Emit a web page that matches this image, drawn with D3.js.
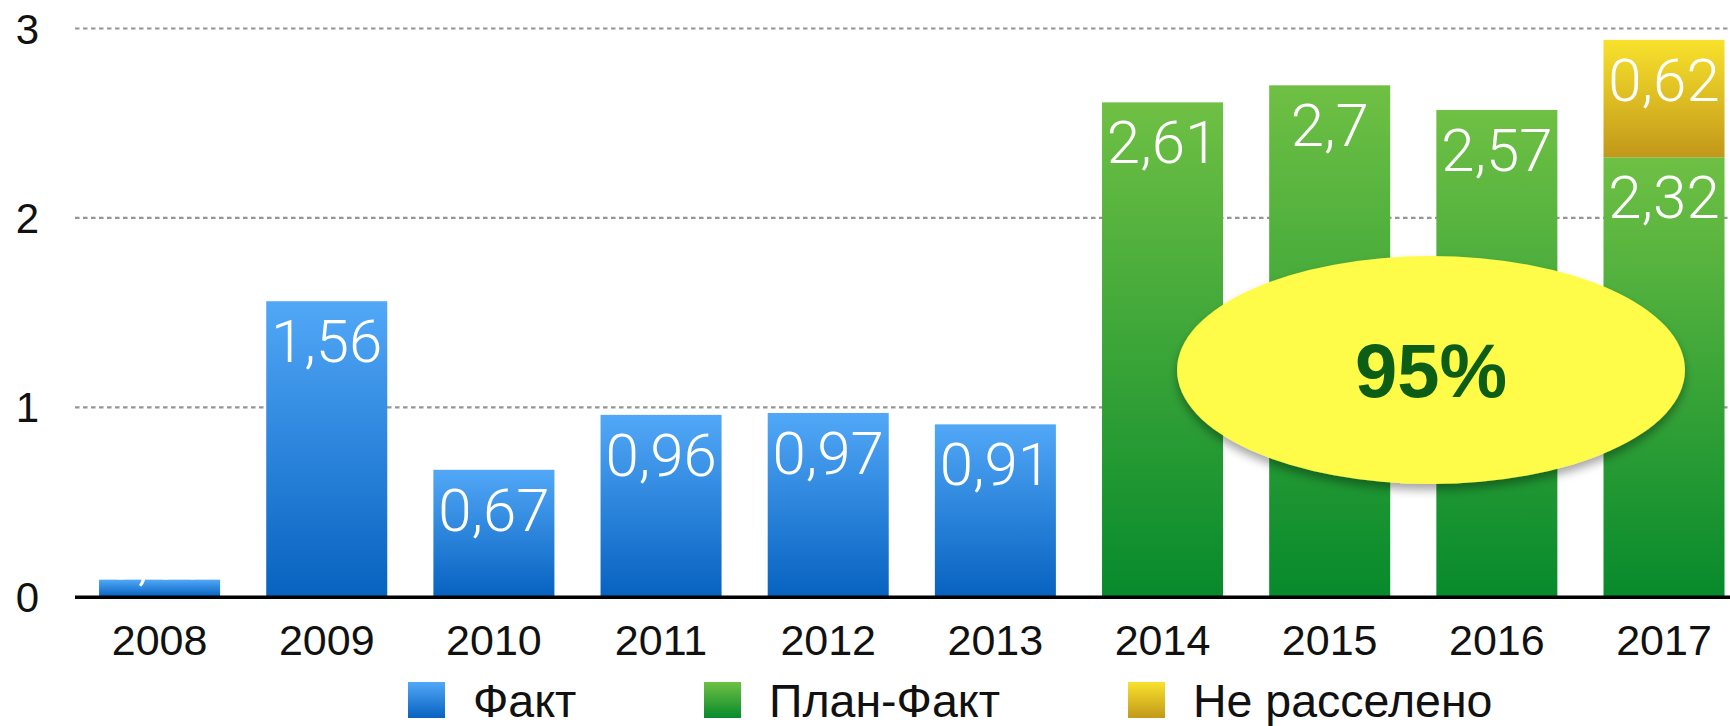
<!DOCTYPE html>
<html>
<head>
<meta charset="utf-8">
<script src="https://cdn.jsdelivr.net/npm/d3@7"></script>
<style>
  body { margin: 0; background: #fff; }
  svg { display: block; }
  text { font-family: "Helvetica Neue", "Liberation Sans", Arial, sans-serif; }
  .val { font-family: "Helvetica Neue", Roboto, sans-serif; font-weight: 300; }
</style>
</head>
<body>
<div id="chart"></div>
<script>
// data
const years = ["2008", "2009", "2010", "2011", "2012", "2013", "2014", "2015", "2016", "2017"];
const series = ["fact", "plan", "left"];
const seriesNames = ["Факт", "План-Факт", "Не расселено"];
const factValues = [0.09, 1.56, 0.67, 0.96, 0.97, 0.91, 0, 0, 0, 0];
const planValues = [0, 0, 0, 0, 0, 0, 2.61, 2.7, 2.57, 2.32];
const leftValues = [0, 0, 0, 0, 0, 0, 0, 0, 0, 0.62];
const yTicks = [0, 1, 2, 3];
const badgeText = "95%";

// colours (top, bottom of each gradient)
const gradColors = {
  fact: ["#52a8f7", "#0762c0"],
  plan: ["#6fc044", "#078a2c"],
  left: ["#f8e22c", "#c2981a"]
};

const width = 1730, height = 726;

const svg = d3.select("#chart").append("svg")
  .attr("width", width)
  .attr("height", height);

const defs = svg.append("defs");
series.forEach(function(s) {
  const g = defs.append("linearGradient")
    .attr("id", "grad-" + s)
    .attr("x1", 0).attr("y1", 0).attr("x2", 0).attr("y2", 1);
  g.append("stop").attr("offset", "0%").attr("stop-color", gradColors[s][0]);
  g.append("stop").attr("offset", "100%").attr("stop-color", gradColors[s][1]);
});

const shadow = defs.append("filter").attr("id", "shadow")
  .attr("x", "-20%").attr("y", "-20%").attr("width", "140%").attr("height", "150%");
shadow.append("feDropShadow")
  .attr("dx", 0).attr("dy", 6).attr("stdDeviation", 5)
  .attr("flood-color", "#000").attr("flood-opacity", 0.35);

// scales
const x = d3.scaleBand()
  .domain(years)
  .range([76, 1747.6])
  .paddingInner(0.276)
  .paddingOuter(0.138);

const y = d3.scaleLinear()
  .domain([0, 3])
  .range([596.7, 28.5]);

// grid lines
svg.append("g")
  .selectAll("line")
  .data(yTicks.filter(d => d > 0))
  .join("line")
  .attr("x1", 75).attr("x2", width)
  .attr("y1", d => y(d)).attr("y2", d => y(d))
  .attr("stroke", "#959595")
  .attr("stroke-width", 2.2)
  .attr("stroke-dasharray", "4.5,3.5");

// y labels
svg.append("g")
  .selectAll("text")
  .data(yTicks)
  .join("text")
  .attr("x", 39)
  .attr("y", d => y(d))
  .attr("dy", "0.36em")
  .attr("text-anchor", "end")
  .attr("font-size", 42)
  .attr("fill", "#111")
  .text(d => d);

// stack the three series
const rows = years.map((yr, i) => ({ year: yr, fact: factValues[i], plan: planValues[i], left: leftValues[i] }));
const stacked = d3.stack().keys(series)(rows);

const layers = svg.append("g").attr("class", "bars")
  .selectAll("g")
  .data(stacked)
  .join("g");

layers.selectAll("rect")
  .data(d => d.filter(p => p[1] - p[0] > 0).map(p => ({ key: d.key, p: p })))
  .join("rect")
  .attr("x", d => x(d.p.data.year))
  .attr("width", x.bandwidth())
  .attr("y", d => y(d.p[1]))
  .attr("height", d => y(d.p[0]) - y(d.p[1]))
  .attr("fill", d => "url(#grad-" + d.key + ")");

// value labels, white, near top of each segment (above the bar when it is too short)
const fmt = v => String(v).replace(".", ",");
const labelG = svg.append("g");
stacked.forEach(function(layer) {
  layer.forEach(function(p) {
    const v = p[1] - p[0];
    if (v <= 0) return;
    const segH = y(p[0]) - y(p[1]);
    const ty = segH > 70 ? y(p[1]) + 61 : y(p[1]) - 1;
    labelG.append("text")
      .attr("class", "val")
      .attr("x", x(p.data.year) + x.bandwidth() / 2)
      .attr("y", ty)
      .attr("text-anchor", "middle")
      .attr("font-size", 60)
      .attr("fill", "#fff")
      .text(fmt(Math.round(v * 100) / 100));
  });
});

// x axis
svg.append("line")
  .attr("x1", 75).attr("x2", width)
  .attr("y1", y(0) + 0.5).attr("y2", y(0) + 0.5)
  .attr("stroke", "#000")
  .attr("stroke-width", 3.5);

svg.append("g")
  .selectAll("text")
  .data(years)
  .join("text")
  .attr("x", d => x(d) + x.bandwidth() / 2)
  .attr("y", 655)
  .attr("text-anchor", "middle")
  .attr("font-size", 43)
  .attr("fill", "#111")
  .text(d => d);

// badge
const badge = svg.append("g");
badge.append("ellipse")
  .attr("cx", 1431).attr("cy", 370)
  .attr("rx", 254).attr("ry", 114)
  .attr("fill", "#fffb48")
  .attr("filter", "url(#shadow)");
badge.append("text")
  .attr("x", 1431).attr("y", 397)
  .attr("text-anchor", "middle")
  .attr("font-family", "'Liberation Sans', Arial, sans-serif")
  .attr("font-weight", "bold")
  .attr("font-size", 76)
  .attr("fill", "#0c5e17")
  .text(badgeText);

// legend
const legendX = [408, 704, 1128];
const legend = svg.append("g")
  .selectAll("g")
  .data(series)
  .join("g")
  .attr("transform", (d, i) => "translate(" + legendX[i] + ",682)");
legend.append("rect")
  .attr("width", 37).attr("height", 36)
  .attr("fill", d => "url(#grad-" + d + ")");
legend.append("text")
  .attr("x", 65).attr("y", 35)
  .attr("font-size", 46.5)
  .attr("fill", "#111")
  .text((d, i) => seriesNames[i]);
</script>
</body>
</html>
